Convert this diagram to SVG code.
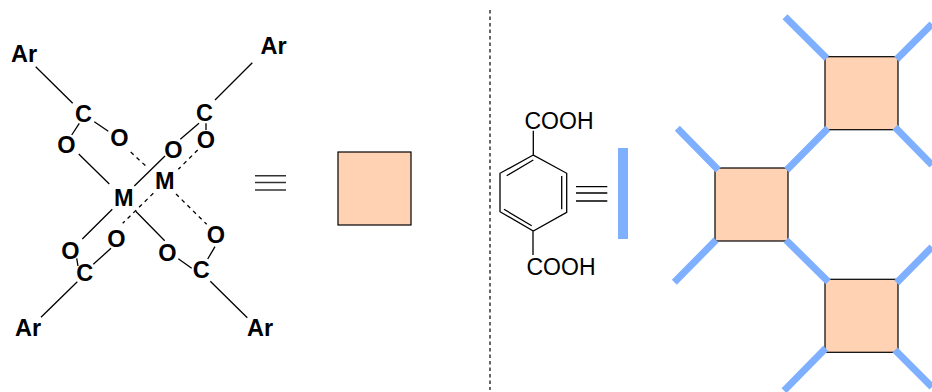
<svg xmlns="http://www.w3.org/2000/svg" width="932" height="392" viewBox="0 0 932 392">
<style>
.a{font:bold 23.5px "Liberation Sans",Arial,sans-serif;fill:#000;text-anchor:middle}
.t{font:23px "Liberation Sans",Arial,sans-serif;fill:#000}
.b{stroke:#000;stroke-width:1.3;fill:none}
.d{stroke:#000;stroke-width:1.3;fill:none;stroke-dasharray:4 4}
.s{fill:#FFD2B3;stroke:#000;stroke-width:1.2}
.l{stroke:#7FB0FF;stroke-width:7;fill:none}
.e{stroke:#333;stroke-width:1.5;fill:none}
</style>
<rect width="932" height="392" fill="#fff"/>
<g id="connectors">
<path class="b" d="M35.7 66.7L72.7 103.3M94.3 121.7L108.3 131.3M79.3 123.3L71.7 135M78.7 154L109.3 184M165 156L134.3 186M252.3 62.7L215 100M199 123.3L180.3 139.3M206 123.3V130M112.3 209.3L82.3 239M76.7 258.3L78 266M111 248.3L93.3 264.3M77.3 281.7L41 317.3M135.7 211.3L164.7 240.7M178.3 258.7L191.7 268.3M215 246.7L207.7 259M210.3 281.3L247.3 317.7"/>
<path class="d" d="M130.7 152L148.3 168.3M197.7 150L178.3 169.3M153.3 193.3L122.7 223.3M176 194L206.7 224.3"/>
<path class="e" d="M255 175.7H286M255 182.5H286M255 190H286"/>
<path d="M490 10V390" stroke="#000" stroke-width="1.2" stroke-dasharray="3.5 3" fill="none"/>
<path class="b" d="M533.3 130.7V155L566.7 173.3V212.3L533.3 231L500 211.7V173.3L533.3 155M533 231V255M506.7 175.7L533.3 160M561.7 176V209.3M504 209.3L531.7 225.7"/>
<path class="b" d="M576 186.7H607.3M576 193H607.3M576 201H607.3"/>
</g>
<g id="complex-labels">
<text class="a" x="24" y="62">Ar</text>
<text class="a" x="273.5" y="53.5">Ar</text>
<text class="a" x="28" y="336">Ar</text>
<text class="a" x="260" y="336">Ar</text>
<text class="a" x="83.5" y="121.5">C</text>
<text class="a" x="204.5" y="121">C</text>
<text class="a" x="84.7" y="281">C</text>
<text class="a" x="201.3" y="278">C</text>
<text class="a" x="66.5" y="152.5">O</text>
<text class="a" x="119.5" y="146">O</text>
<text class="a" x="173.5" y="157.5">O</text>
<text class="a" x="206" y="148">O</text>
<text class="a" x="70.3" y="258.5">O</text>
<text class="a" x="116.3" y="247">O</text>
<text class="a" x="167.3" y="260.5">O</text>
<text class="a" x="216" y="243">O</text>
<text class="a" x="164.7" y="189">M</text>
<text class="a" x="123.7" y="206">M</text>
</g>
<g id="node-square"><rect class="s" x="338" y="152" width="73" height="73"/></g>
<g id="linker-labels">
<text class="t" x="524.5" y="129">COOH</text>
<text class="t" x="526.5" y="275">COOH</text>
</g>
<g id="node-bar"><rect x="618" y="148" width="10" height="91" fill="#7FB0FF"/></g>
<g id="node-s1"><rect class="s" x="825" y="56.7" width="73" height="73"/></g>
<g id="node-s2"><rect class="s" x="715" y="168" width="73" height="73"/></g>
<g id="node-s3"><rect class="s" x="825" y="279.3" width="73" height="73"/></g>
<g id="linkers">
<path class="l" d="M785 16.7L826.7 58.3M896.7 59.3L932 24M895 127.3L932 165M828 128.3L786.7 170M677.3 128.3L718.3 170M716 240L674.3 282.3M786 240L828.3 281.7M896.7 282.7L932 247M825.7 348.3L784 390.7M895 350L932 387"/>
</g>
</svg>
